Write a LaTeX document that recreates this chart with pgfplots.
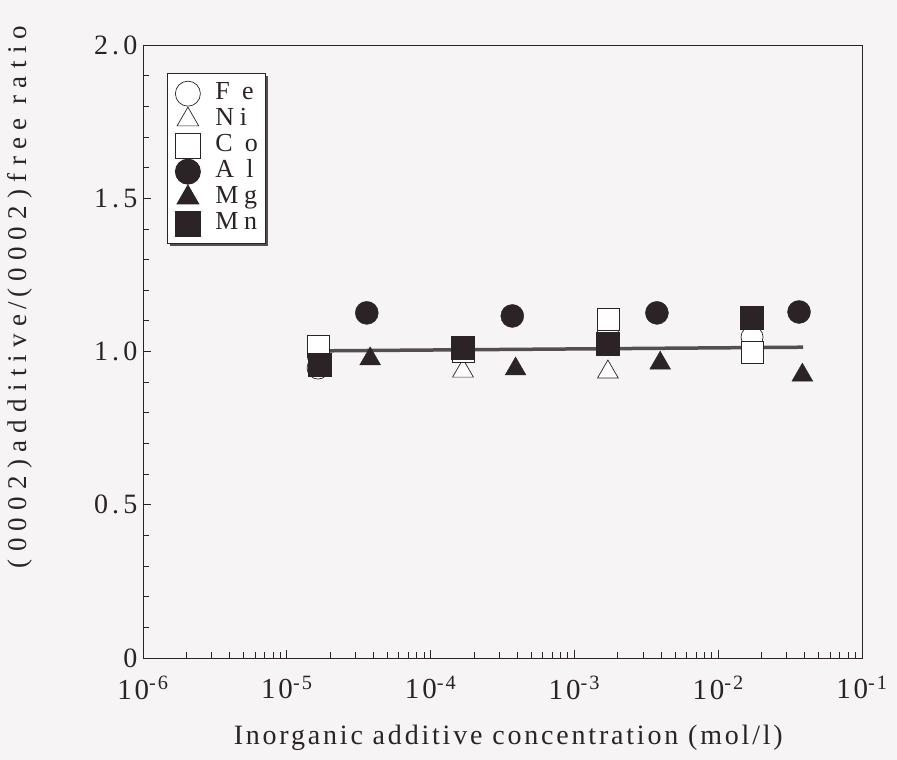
\documentclass[border=0pt]{standalone}
\usepackage{pgfplots}
\pgfplotsset{compat=1.18}
\usetikzlibrary{shadows}
\usepackage{fontspec}
\setmainfont{Liberation Serif}
\newfontfamily\spacedA[LetterSpace=27]{Liberation Serif}
\newfontfamily\spacedB[LetterSpace=10]{Liberation Serif}
\newfontfamily\spacedC[LetterSpace=15]{Liberation Serif}
\newfontfamily\spacedD[LetterSpace=22]{Liberation Serif}
\newcommand\legfont{\spacedD\fontsize{26}{27}\selectfont}
\definecolor{ink}{RGB}{43,35,38}
\definecolor{lineg}{RGB}{85,78,80}
\definecolor{bg}{RGB}{246,244,244}
\begin{document}
\begin{tikzpicture}
\fill[bg] (-143pt,-102pt) rectangle (754pt,658pt);
\begin{axis}[
  scale only axis,
  width=719pt, height=613pt,
  xmode=log,
  xmin=1e-6, xmax=1e-1,
  ymin=0, ymax=2,
  axis line style={ink, line width=0.8pt},
  xtick={1e-6,1e-5,1e-4,1e-3,1e-2,1e-1},
  xticklabels={10\textsuperscript{-6},10\textsuperscript{-5},10\textsuperscript{-4},10\textsuperscript{-3},10\textsuperscript{-2},10\textsuperscript{-1}},
  ytick={0,0.5,1,1.5,2},
  yticklabels={0,0.5,1.0,1.5,2.0},
  minor ytick={0.1,0.2,0.3,0.4,0.6,0.7,0.8,0.9,1.1,1.2,1.3,1.4,1.6,1.7,1.8,1.9},
  tick align=inside,
  xtick pos=bottom, ytick pos=left,
  major tick length=8pt, minor tick length=6pt,
  tick style={ink, line width=0.7pt},
  xticklabel style={font=\spacedB\fontsize{29}{30}\selectfont, yshift=-15pt, text=ink},
  yticklabel style={font=\spacedC\fontsize{28}{30}\selectfont, xshift=-2pt, text=ink},
  xlabel={Inorganic additive concentration (mol/l)},
  ylabel={(0002)additive\,/\,(0002)free ratio},
  xlabel style={at={(axis description cs:0.508,-0.13)}, anchor=center, font=\spacedB\fontsize{28}{30}\selectfont, text=ink},
  ylabel style={at={(axis description cs:-0.171,0.589)}, anchor=center, rotate=0, font=\spacedA\fontsize{27}{30}\selectfont, text=ink},
  legend style={at={(axis description cs:0.0334,0.954)}, anchor=north west, draw=ink, line width=0.9pt, fill=white,
    drop shadow={shadow xshift=2.5pt, shadow yshift=-2.5pt, fill=ink!80, opacity=1},
    text=ink, row sep=0pt, inner xsep=5pt, inner ysep=7pt,
    nodes={text height=17pt, text depth=5pt, inner ysep=2pt, inner xsep=3pt},
    column 2/.style={nodes={text width=54pt}}},
  legend cell align=left,
  legend image code/.code={\path (-15pt,0pt) (24pt,0pt); \draw[#1, mark size=12.5pt] plot coordinates {(0pt,0pt)};},
]
% Fe open circles
\addplot[only marks, mark=*, mark size=11pt, mark options={fill=white, draw=ink, line width=0.7pt}]
  coordinates {(1.65e-5,0.946) (1.68e-4,1.0) (1.71e-3,1.054) (1.72e-2,1.047)};
\addlegendentry{\legfont F e}
% Ni open triangles
\addplot[only marks, mark=triangle*, mark size=12pt, mark options={fill=white, draw=ink, line width=0.7pt}]
  coordinates {(1.65e-5,0.995) (1.68e-4,0.936) (1.71e-3,0.933)};
\addlegendentry{\legfont Ni}
% Co open squares
\addplot[only marks, mark=square*, mark size=11pt, mark options={fill=white, draw=ink, line width=0.7pt}]
  coordinates {(1.65e-5,1.018) (1.68e-4,1.0) (1.71e-3,1.106) (1.72e-2,0.998)};
\addlegendentry{\legfont C o}
% Al filled circles
\addplot[only marks, mark=*, mark size=11.5pt, mark options={fill=ink, draw=ink}]
  coordinates {(3.6e-5,1.126) (3.7e-4,1.116) (3.75e-3,1.126) (3.65e-2,1.129)};
\addlegendentry{\legfont A l}
% Mg filled triangles
\addplot[only marks, mark=triangle*, mark size=12pt, mark options={fill=ink, draw=ink}]
  coordinates {(3.8e-5,0.976) (3.9e-4,0.943) (3.95e-3,0.962) (3.85e-2,0.923)};
\addlegendentry{\legfont Mg}
% Mn filled squares
\addplot[only marks, mark=square*, mark size=11.5pt, mark options={fill=ink, draw=ink}]
  coordinates {(1.7e-5,0.956) (1.68e-4,1.011) (1.71e-3,1.024) (1.72e-2,1.109)};
\addlegendentry{\legfont Mn}
% fit line
\addplot[lineg, line width=3.5pt, forget plot] coordinates {(1.6e-5,1.002) (3.9e-2,1.014)};
\end{axis}
\end{tikzpicture}
\end{document}
